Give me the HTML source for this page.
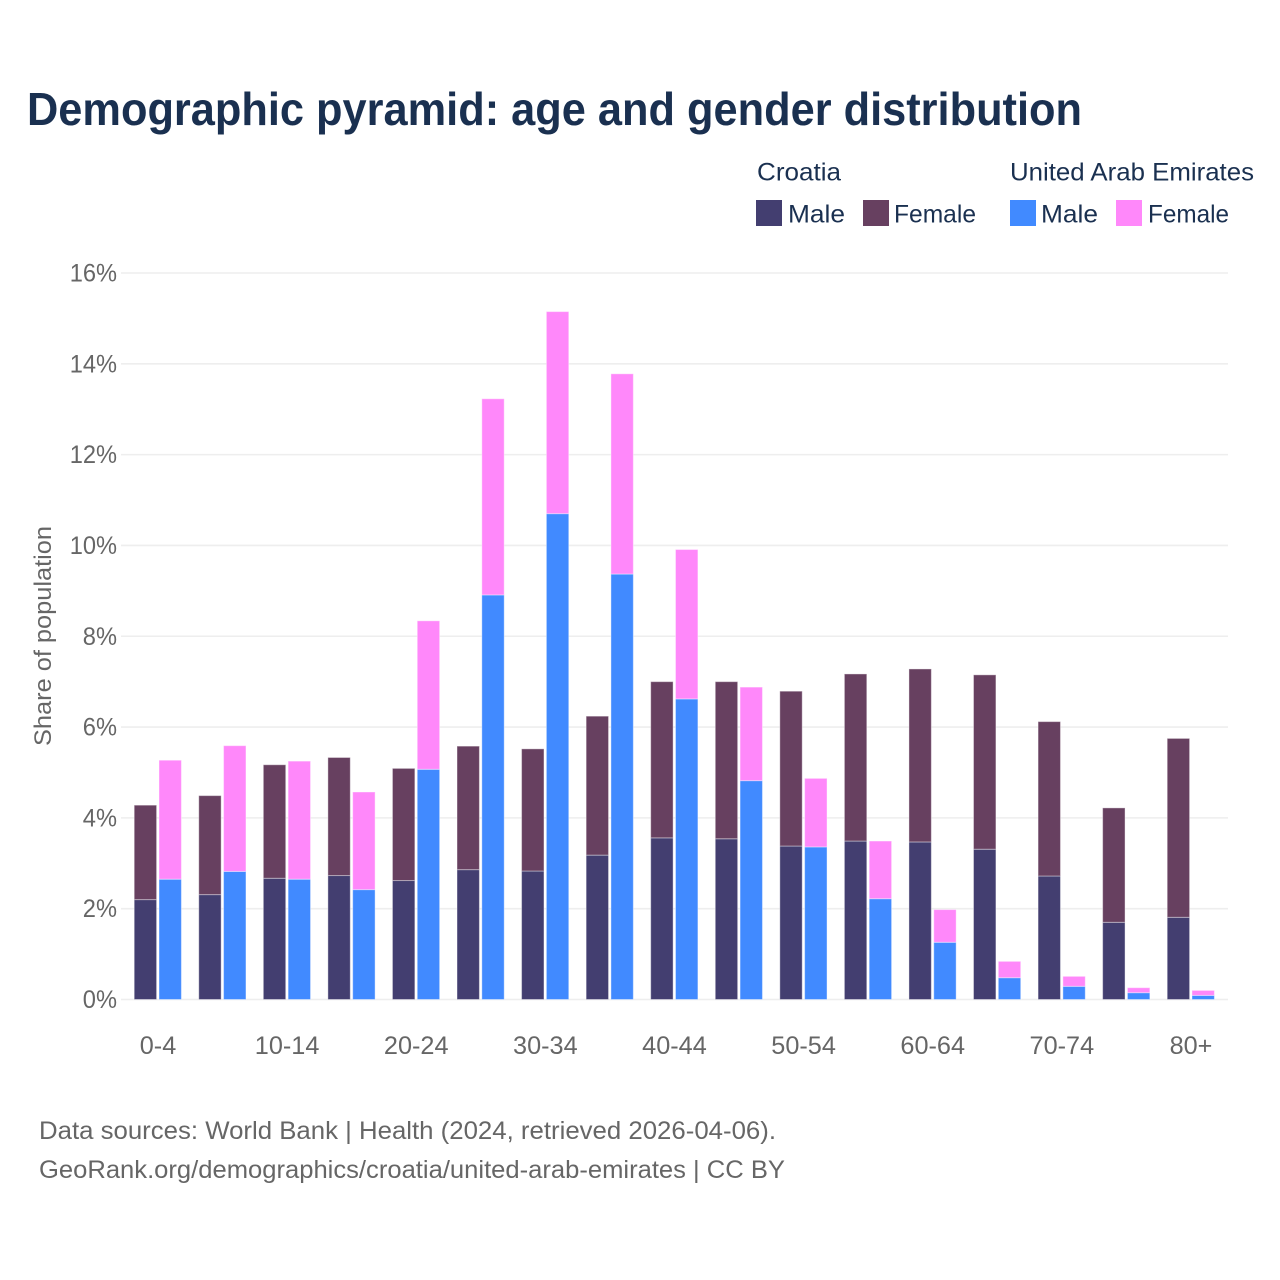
<!DOCTYPE html>
<html lang="en">
<head>
<meta charset="utf-8">
<title>Demographic pyramid</title>
<style>
html,body{margin:0;padding:0;background:#fff;width:1280px;height:1280px;overflow:hidden}
svg{display:block}
text{font-family:"Liberation Sans",sans-serif}
</style>
</head>
<body>
<svg id="chart" width="1280" height="1280" viewBox="0 0 1280 1280" xmlns="http://www.w3.org/2000/svg">
  <rect width="1280" height="1280" fill="#fff"/>
  <text x="27" y="125" font-size="46" font-weight="700" fill="#1a3050" textLength="1055" lengthAdjust="spacingAndGlyphs">Demographic pyramid: age and gender distribution</text>

  <g font-size="25" fill="#1a3050">
    <text x="757" y="180.5" textLength="84" lengthAdjust="spacingAndGlyphs">Croatia</text>
    <text x="1010" y="180.5" textLength="244" lengthAdjust="spacingAndGlyphs">United Arab Emirates</text>
    <rect x="756" y="200" width="26" height="26" fill="#433e70"/>
    <text x="788" y="222.5" textLength="57" lengthAdjust="spacingAndGlyphs">Male</text>
    <rect x="863" y="200" width="26" height="26" fill="#674060"/>
    <text x="894" y="222.5" textLength="82" lengthAdjust="spacingAndGlyphs">Female</text>
    <rect x="1010" y="200" width="26" height="26" fill="#418aff"/>
    <text x="1041" y="222.5" textLength="57" lengthAdjust="spacingAndGlyphs">Male</text>
    <rect x="1116" y="200" width="26" height="26" fill="#ff88fa"/>
    <text x="1148" y="222.5" textLength="81" lengthAdjust="spacingAndGlyphs">Female</text>
  </g>

  <g id="grid"></g>
  <g id="y-ticks"></g>
  <g id="bars"></g>
  <g id="x-ticks"></g>

  <text transform="translate(51,636) rotate(-90)" text-anchor="middle" font-size="24" fill="#666" textLength="220" lengthAdjust="spacingAndGlyphs">Share of population</text>

  <text x="39" y="1139" font-size="25" fill="#666" textLength="737" lengthAdjust="spacingAndGlyphs">Data sources: World Bank | Health (2024, retrieved 2026-04-06).</text>
  <text x="39" y="1178" font-size="25" fill="#666" textLength="746" lengthAdjust="spacingAndGlyphs">GeoRank.org/demographics/croatia/united-arab-emirates | CC BY</text>
</svg>
<script>
const ageGroups = ["0-4","5-9","10-14","15-19","20-24","25-29","30-34","35-39","40-44","45-49","50-54","55-59","60-64","65-69","70-74","75-79","80+"];
const xTickLabels = ["0-4","10-14","20-24","30-34","40-44","50-54","60-64","70-74","80+"];
const yTicks = [0,2,4,6,8,10,12,14,16];
const croatiaMale = [2.20,2.31,2.67,2.73,2.62,2.86,2.83,3.18,3.56,3.54,3.38,3.49,3.47,3.31,2.72,1.70,1.81];
const croatiaFemale = [2.08,2.18,2.50,2.60,2.47,2.72,2.69,3.06,3.44,3.46,3.41,3.68,3.81,3.84,3.40,2.52,3.94];
const uaeMale = [2.65,2.82,2.65,2.42,5.07,8.91,10.70,9.37,6.62,4.82,3.36,2.22,1.26,0.48,0.29,0.15,0.09];
const uaeFemale = [2.62,2.77,2.60,2.15,3.27,4.32,4.45,4.41,3.29,2.06,1.51,1.27,0.72,0.36,0.22,0.11,0.11];

const NS = "http://www.w3.org/2000/svg";
const yScale = v => 999.5 - v * (726.5 / 16);
const xScale = i => 158 + i * (1033 / 16);
const barWidth = 22.4;
const barOffset = 23.8;

function make(parent, tag, attrs) {
  const el = document.createElementNS(NS, tag);
  for (const k in attrs) el.setAttribute(k, attrs[k]);
  parent.appendChild(el);
  return el;
}
function squeezed(parent, attrs, str, ratio) {
  const el = make(parent, "text", attrs);
  el.textContent = str;
  const w = el.getComputedTextLength();
  el.setAttribute("textLength", (w * ratio).toFixed(1));
  el.setAttribute("lengthAdjust", "spacingAndGlyphs");
  return el;
}

const gridG = document.getElementById("grid");
const yG = document.getElementById("y-ticks");
yTicks.forEach(t => {
  const line = make(gridG, "line", {x1:121, x2:1228, y1:yScale(t), y2:yScale(t), stroke:"#eeeeee", "stroke-width":1.6});
  
  
  const lab = squeezed(yG, {x:117, y:yScale(t)+8.5, "text-anchor":"end", "font-size":25, fill:"#666"}, t + "%", 0.945);
  
  
});

const barsG = document.getElementById("bars");
function stackedBar(x, base, height, fill, name) {
  const r = make(barsG, "rect", {
    x: x, y: yScale(base + height), width: barWidth,
    height: yScale(base) - yScale(base + height),
    fill: fill, stroke: "#fff", "stroke-opacity": 0.4, "stroke-width": 1
  });
  
  
}
ageGroups.forEach((g, i) => {
  const cx = xScale(i);
  const left = cx - barOffset;
  const right = cx + 1;
  stackedBar(left, 0, croatiaMale[i], "#433e70", "bar-croatia-male");
  stackedBar(left, croatiaMale[i], croatiaFemale[i], "#674060", "bar-croatia-female");
  stackedBar(right, 0, uaeMale[i], "#418aff", "bar-uae-male");
  stackedBar(right, uaeMale[i], uaeFemale[i], "#ff88fa", "bar-uae-female");
});

const xG = document.getElementById("x-ticks");
xTickLabels.forEach(lbl => {
  const i = ageGroups.indexOf(lbl);
  const t = squeezed(xG, {x:xScale(i), y:1054, "text-anchor":"middle", "font-size":25, fill:"#666"}, lbl, 1.01);
  
  
});
</script>
</body>
</html>
